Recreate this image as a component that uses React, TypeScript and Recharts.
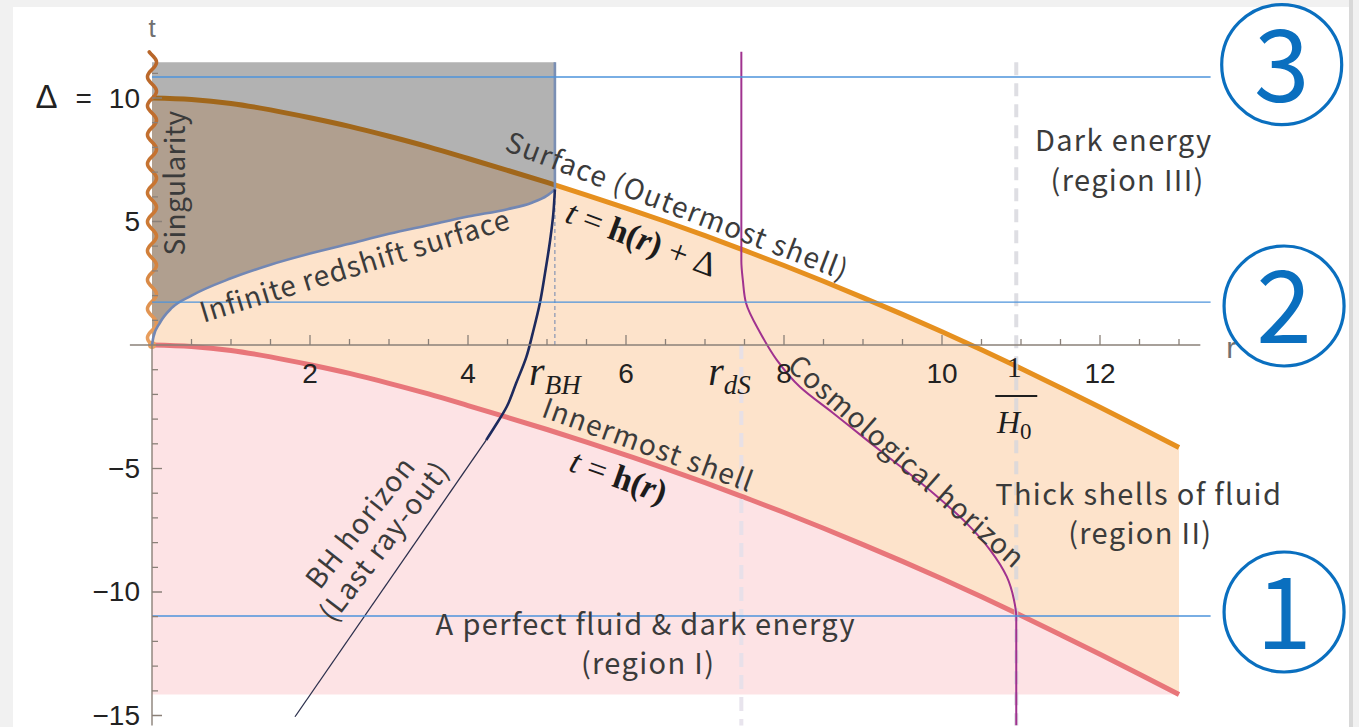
import React from "react";
import {
  ComposedChart,
  XAxis,
  YAxis,
  Area,
  Line,
  Scatter,
  ReferenceLine,
  ReferenceDot,
} from "recharts";

// ---- shell boundaries -------------------------------------------------------
// radial grid shared by the innermost shell t = h(r) and the surface t = h(r) + Δ
const SHELL_R = [
  0, 0.5, 1, 1.5, 2, 2.5, 3, 3.5, 4, 4.5, 5, 5.5, 6, 6.5, 7, 7.5, 8, 8.5, 9, 9.5,
  10, 10.5, 11, 11.5, 12, 12.5, 13,
];
const INNER_T = [
  0, -0.06, -0.22, -0.48, -0.8, -1.15, -1.55, -1.98, -2.45, -2.93, -3.42, -3.93,
  -4.46, -5.0, -5.57, -6.17, -6.78, -7.42, -8.08, -8.76, -9.46, -10.19, -10.95,
  -11.73, -12.52, -13.33, -14.15,
];
const OUTER_T = [
  10, 9.94, 9.78, 9.52, 9.2, 8.85, 8.45, 8.02, 7.55, 7.07, 6.58, 6.07, 5.54, 5.0,
  4.43, 3.83, 3.22, 2.58, 1.92, 1.24, 0.54, -0.19, -0.95, -1.73, -2.52, -3.33,
  -4.15,
];
const DELTA = 10;
const REGION_I_FLOOR = -14.15;
const REGION_III_TOP = 11.45;

// ---- infinite redshift surface ----------------------------------------------
const REDSHIFT_R = [0, 0.02, 0.1, 0.25, 0.5, 1, 1.5, 2, 2.5, 3, 3.5, 4, 4.5, 4.8, 5.0, 5.1];
const REDSHIFT_T = [0, 0.35, 0.9, 1.5, 2.0, 2.7, 3.25, 3.7, 4.1, 4.5, 4.85, 5.2, 5.5, 5.75, 6.05, 6.3];

// ---- BH horizon (last ray-out) ----------------------------------------------
const BH_CURVE_R = [5.1, 5.08, 5.04, 4.975, 4.91, 4.82, 4.74, 4.61, 4.49, 4.34, 4.23];
const BH_CURVE_T = [6.3, 5.32, 4.25, 2.91, 1.7, 0.49, -0.47, -1.54, -2.5, -3.3, -3.85];
const BH_RAY_R = [4.23, 1.81];
const BH_RAY_T = [-3.85, -15.05];

// ---- cosmological horizon ---------------------------------------------------
const COSMO_R = [7.46, 7.46, 7.48, 7.52, 7.7, 7.91, 8.2, 8.62, 9.05, 9.47, 9.89, 10.31, 10.61, 10.82, 10.91, 10.94, 10.94];
const COSMO_T = [11.87, 3.4, 2.6, 1.69, 0.49, -0.61, -1.69, -2.75, -3.85, -4.91, -6.0, -7.21, -8.3, -9.38, -10.3, -11.0, -15.4];

// ---- characteristic radii and time slices -------------------------------------
const R_BH = 5.1;
const R_DS = 7.46;
const INV_H0 = 10.94;
const SINGULARITY_TOP = 11.87;
const SLICE_T = [10.85, 1.74, -10.97];
const SLICE_END_R = 13.4;
const SLICE_NAMES = ["3", "2", "1"];

// ---- axes ---------------------------------------------------------------------
const X_TICK_LABELS = [2, 4, 6, 8, 10, 12];
const Y_TICK_LABELS = [10, 5, -5, -10, -15];
const X_TICK_STEP = 0.5;
const X_TICK_MAX = 13;
const Y_TICK_MIN = -15;
const Y_TICK_MAX = 11;

const shellRows = SHELL_R.map((r, i) => ({ r, inner: INNER_T[i], outer: OUTER_T[i] }));
const redshiftRows = REDSHIFT_R.map((r, i) => ({ r, t: REDSHIFT_T[i] }));
const bhCurveRows = BH_CURVE_R.map((r, i) => ({ r, t: BH_CURVE_T[i] }));
const bhRayRows = BH_RAY_R.map((r, i) => ({ r, t: BH_RAY_T[i] }));
const cosmoRows = COSMO_R.map((r, i) => ({ r, t: COSMO_T[i] }));

const xTickRows: { r: number; t: number }[] = [];
for (let k = 1; k * X_TICK_STEP <= X_TICK_MAX + 1e-9; k++) xTickRows.push({ r: k * X_TICK_STEP, t: 0 });
const yTickRows: { r: number; t: number }[] = [];
for (let t = Y_TICK_MIN; t <= Y_TICK_MAX; t++) if (t !== 0) yTickRows.push({ r: 0, t });

// ---- styling ------------------------------------------------------------------
const W = 1359;
const H = 727;
const AXIS = "#8a8078";
const TEXT = "#3b3b3b";
const SANS = "'Noto Sans CJK JP', 'Noto Sans', sans-serif";
const NUM = "'Liberation Sans', Arial, sans-serif";
const SERIF = "'Liberation Serif', 'DejaVu Serif', serif";
const MARK_BLUE = "#0a6fbf";

const minus = (v: number) => (v < 0 ? `\u2212${Math.abs(v)}` : `${v}`);

const XTick = (p: any) => {
  const { cx, cy, payload } = p;
  const major = X_TICK_LABELS.includes(payload.r);
  return <line x1={cx} x2={cx} y1={cy} y2={cy - (major ? 10 : 6)} stroke={AXIS} strokeWidth={1.3} />;
};

const YTick = (p: any) => {
  const { cx, cy, payload } = p;
  const major = Y_TICK_LABELS.includes(payload.t);
  return <line x1={cx} x2={cx + (major ? 10 : 6)} y1={cy} y2={cy} stroke={AXIS} strokeWidth={1.3} />;
};

const xLabel = (v: number) => (p: any) => (
  <text x={p.cx} y={p.cy + 38} textAnchor="middle" fontSize={28} fontFamily={NUM} fill="#222">
    {v}
  </text>
);

const yLabel = (v: number) => (p: any) =>
  v === DELTA ? (
    <text x={p.cx - 12} y={p.cy + 10} textAnchor="end" fontSize={28} fontFamily={NUM} fill="#222">
      <tspan fontSize={33}>Δ</tspan>
      <tspan dx={18}>=</tspan>
      <tspan dx={17}>{DELTA}</tspan>
    </text>
  ) : (
    <text x={p.cx - 12} y={p.cy + 9} textAnchor="end" fontSize={28} fontFamily={NUM} fill="#222">
      {minus(v)}
    </text>
  );

// wavy stroke along the singularity r = 0
const Squiggle = (p: any) => {
  const { x1, y1, y2 } = p;
  const period = 29;
  const amp = 4.5;
  const len = Math.abs(y2 - y1);
  const pts: string[] = [];
  for (let s = 0; s <= len; s += 1) {
    const y = y1 - s;
    const x = x1 - amp * Math.sin((2 * Math.PI * s) / period);
    pts.push(`${x.toFixed(2)},${y.toFixed(2)}`);
  }
  return (
    <g>
      <defs>
        <linearGradient id="singGrad" x1="0" y1="1" x2="0" y2="0">
          <stop offset="0" stopColor="#eaa060" />
          <stop offset="0.35" stopColor="#cf7c36" />
          <stop offset="1" stopColor="#b8662a" />
        </linearGradient>
      </defs>
      <polyline points={pts.join(" ")} fill="none" stroke="url(#singGrad)" strokeWidth={3.6} strokeLinecap="round" />
      <circle cx={x1} cy={y1} r={4} fill="#e9a15e" />
    </g>
  );
};

type NoteProps = {
  r: number;
  t: number;
  text: string;
  angle?: number;
  size?: number;
  spacing?: number;
};

const NOTES: NoteProps[] = [
  { r: 0.27, t: 6.56, text: "Singularity", angle: -90, size: 28, spacing: 0.3 },
  { r: 2.56, t: 3.28, text: "Infinite redshift surface", angle: -17, size: 28, spacing: 0.9 },
  { r: 6.66, t: 5.7, text: "Surface (Outermost shell)", angle: 21, size: 28 },
  { r: 12.3, t: 8.38, text: "Dark energy", size: 29 },
  { r: 12.35, t: 6.76, text: "(region III)", size: 29 },
  { r: 6.29, t: -3.97, text: "Innermost shell", angle: 20, size: 28 },
  { r: 9.57, t: -4.66, text: "Cosmological horizon", angle: 41.5, size: 28, spacing: 1.1 },
  { r: 2.62, t: -7.13, text: "BH horizon", angle: -52, size: 28 },
  { r: 2.92, t: -7.89, text: "(Last ray-out)", angle: -52.5, size: 28 },
  { r: 6.25, t: -11.22, text: "A perfect fluid & dark energy", size: 29 },
  { r: 6.28, t: -12.8, text: "(region I)", size: 29 },
  { r: 12.49, t: -5.95, text: "Thick shells of fluid", size: 29 },
  { r: 12.51, t: -7.53, text: "(region II)", size: 29 },
];

const noteShape = (n: NoteProps) => (p: any) => (
  <text
    x={p.cx}
    y={p.cy}
    transform={n.angle ? `rotate(${n.angle} ${p.cx} ${p.cy})` : undefined}
    textAnchor="middle"
    dominantBaseline="central"
    fontSize={n.size ?? 28}
    letterSpacing={n.spacing ?? 1.35}
    fontFamily={SANS}
    fill={TEXT}
  >
    {n.text}
  </text>
);

const formulaShape = (angle: number, withDelta: boolean) => (p: any) => (
  <text
    x={p.cx}
    y={p.cy}
    transform={`rotate(${angle} ${p.cx} ${p.cy})`}
    textAnchor="middle"
    dominantBaseline="central"
    fontSize={34}
    fontFamily={SERIF}
    fill="#1c1c1c"
  >
    <tspan fontStyle="italic">t</tspan>
    <tspan> = </tspan>
    <tspan fontWeight="bold">h</tspan>
    <tspan fontWeight="bold">(</tspan>
    <tspan fontWeight="bold" fontStyle="italic">r</tspan>
    <tspan fontWeight="bold">)</tspan>
    {withDelta && <tspan> + Δ</tspan>}
  </text>
);

const radiusLabel = (sub: string) => (p: any) => (
  <text x={p.cx} y={p.cy + 40} textAnchor="middle" fontFamily={SERIF} fill="#1e1e1e" fontStyle="italic">
    <tspan fontSize={40}>r</tspan>
    <tspan fontSize={27} dy={9}>{sub}</tspan>
  </text>
);

const hubbleLabel = (p: any) => (
  <g>
    <text x={p.cx - 2} y={p.cy + 32} textAnchor="middle" fontFamily={SERIF} fontSize={30} fill="#1e1e1e">
      1
    </text>
    <line x1={p.cx - 21} x2={p.cx + 21} y1={p.cy + 51} y2={p.cy + 51} stroke="#1e1e1e" strokeWidth={2} />
    <text x={p.cx - 2} y={p.cy + 88} textAnchor="middle" fontFamily={SERIF} fill="#1e1e1e">
      <tspan fontSize={32} fontStyle="italic">H</tspan>
      <tspan fontSize={23} dy={6}>0</tspan>
    </text>
  </g>
);

const sliceMark = (name: string) => (p: any) => (
  <g>
    <circle cx={p.cx} cy={p.cy} r={60} fill="#fff" stroke={MARK_BLUE} strokeWidth={3.2} />
    <text x={p.cx} y={p.cy + 37} textAnchor="middle" fontSize={100} fontFamily={SANS} fill={MARK_BLUE}>
      {name}
    </text>
  </g>
);

const axisLetter = (letter: string, size: number) => (p: any) => (
  <text x={p.cx} y={p.cy} textAnchor="middle" dominantBaseline="central" fontSize={size} fontFamily={NUM} fill="#707070">
    {letter}
  </text>
);

const SLICE_MARK_POS = [
  { r: 14.3, t: 11.35 },
  { r: 14.33, t: 1.58 },
  { r: 14.33, t: -10.81 },
];

export default function App() {
  return (
    <div style={{ position: "absolute", left: 0, top: 0, width: W, height: H, background: "#f1f1f1", overflow: "hidden" }}>
      <div style={{ position: "absolute", left: 13, top: 7, width: 1336, height: 720, background: "#ffffff" }} />
      <div style={{ position: "absolute", left: 1349, top: 0, width: 4, height: H, background: "#d8d8d8" }} />
      <div style={{ position: "absolute", left: 0, top: 0 }}>
        <ComposedChart width={W} height={H} margin={{ top: 11.55, right: 22, bottom: 1.6, left: 73 }}>
          <XAxis type="number" dataKey="r" domain={[-1, 15]} allowDataOverflow hide />
          <YAxis type="number" domain={[-15.4, 13.5]} allowDataOverflow hide />

          {/* region I: perfect fluid & dark energy */}
          <Area
            data={shellRows}
            dataKey={(d: any) => [REGION_I_FLOOR, d.inner]}
            type="monotone"
            fill="#fde3e5"
            fillOpacity={1}
            stroke="none"
            isAnimationActive={false}
            zIndex={100}
          />
          {/* region II: thick shells of fluid */}
          <Area
            data={shellRows}
            dataKey={(d: any) => [d.inner, d.outer]}
            type="monotone"
            fill="#fde3cb"
            fillOpacity={1}
            stroke="none"
            isAnimationActive={false}
            zIndex={101}
          />

          <Line data={shellRows} dataKey="inner" type="monotone" stroke="#e8767a" strokeWidth={5} dot={false} activeDot={false} isAnimationActive={false} zIndex={400} />
          <Line data={shellRows} dataKey="outer" type="monotone" stroke="#e6901f" strokeWidth={5} dot={false} activeDot={false} isAnimationActive={false} zIndex={401} />

          <ReferenceLine segment={[{ x: R_DS, y: 0 }, { x: R_DS, y: -15.4 }]} stroke="#e4dfea" strokeOpacity={0.85} strokeWidth={4} strokeDasharray="14 8" zIndex={410} />
          <ReferenceLine segment={[{ x: INV_H0, y: REGION_III_TOP }, { x: INV_H0, y: -15.4 }]} stroke="#d6d6dc" strokeOpacity={0.8} strokeWidth={4} strokeDasharray="13 8" zIndex={410} />

          {/* trapped region inside the BH horizon */}
          <Area
            data={redshiftRows}
            dataKey={(d: any) => [d.t, REGION_III_TOP]}
            type="monotone"
            fill="#141414"
            fillOpacity={0.33}
            stroke="none"
            isAnimationActive={false}
            zIndex={420}
          />

          <ReferenceLine segment={[{ x: 0, y: 0 }, { x: 0, y: SINGULARITY_TOP }]} shape={Squiggle} zIndex={430} />

          <ReferenceLine segment={[{ x: R_BH, y: BH_CURVE_T[0] }, { x: R_BH, y: REGION_III_TOP }]} stroke="#7a8fb4" strokeWidth={2.6} zIndex={440} />
          <ReferenceLine segment={[{ x: R_BH, y: 0 }, { x: R_BH, y: BH_CURVE_T[0] }]} stroke="#6d84ae" strokeWidth={1} strokeDasharray="4 3" zIndex={440} />

          <Line data={redshiftRows} dataKey="t" type="monotone" stroke="#7287b4" strokeWidth={2.6} dot={false} activeDot={false} isAnimationActive={false} zIndex={441} />
          <Line data={bhCurveRows} dataKey="t" type="monotoneY" stroke="#1d2a5e" strokeWidth={2.6} dot={false} activeDot={false} isAnimationActive={false} zIndex={442} />
          <Line data={bhRayRows} dataKey="t" type="linear" stroke="#2b2f4c" strokeWidth={1.3} dot={false} activeDot={false} isAnimationActive={false} zIndex={442} />
          <Line data={cosmoRows} dataKey="t" type="monotoneY" stroke="#a0328f" strokeWidth={2} dot={false} activeDot={false} isAnimationActive={false} zIndex={443} />

          {SLICE_T.map((t) => (
            <ReferenceLine key={`slice-${t}`} segment={[{ x: 0, y: t }, { x: SLICE_END_R, y: t }]} stroke="#4d93db" strokeWidth={1.3} zIndex={460} />
          ))}

          {/* axes through the origin */}
          <ReferenceLine segment={[{ x: -0.28, y: 0 }, { x: 13.27, y: 0 }]} stroke={AXIS} strokeWidth={1.4} zIndex={500} />
          <ReferenceLine segment={[{ x: 0, y: -15.4 }, { x: 0, y: 0 }]} stroke={AXIS} strokeWidth={1.4} zIndex={500} />
          <Scatter data={xTickRows} dataKey="t" shape={XTick} isAnimationActive={false} zIndex={600} />
          <Scatter data={yTickRows} dataKey="t" shape={YTick} isAnimationActive={false} zIndex={600} />

          {X_TICK_LABELS.map((v) => (
            <ReferenceDot key={`xl-${v}`} x={v} y={0} r={0} shape={xLabel(v)} zIndex={700} />
          ))}
          {Y_TICK_LABELS.map((v) => (
            <ReferenceDot key={`yl-${v}`} x={0} y={v} r={0} shape={yLabel(v)} zIndex={700} />
          ))}

          <ReferenceDot x={R_BH} y={0} r={0} shape={radiusLabel("BH")} zIndex={700} />
          <ReferenceDot x={R_DS - 0.15} y={0} r={0} shape={radiusLabel("dS")} zIndex={700} />
          <ReferenceDot x={INV_H0} y={0} r={0} shape={hubbleLabel} zIndex={700} />
          <ReferenceDot x={0} y={12.83} r={0} shape={axisLetter("t", 26)} zIndex={700} />
          <ReferenceDot x={13.66} y={-0.1} r={0} shape={axisLetter("r", 30)} zIndex={700} />

          {NOTES.map((n) => (
            <ReferenceDot key={n.text} x={n.r} y={n.t} r={0} shape={noteShape(n)} zIndex={700} />
          ))}
          <ReferenceDot x={6.2} y={4.33} r={0} shape={formulaShape(20.6, true)} zIndex={700} />
          <ReferenceDot x={5.91} y={-5.3} r={0} shape={formulaShape(19.5, false)} zIndex={700} />

          {SLICE_NAMES.map((name, i) => (
            <ReferenceDot key={name} x={SLICE_MARK_POS[i].r} y={SLICE_MARK_POS[i].t} r={0} shape={sliceMark(name)} zIndex={700} />
          ))}
        </ComposedChart>
      </div>
    </div>
  );
}
